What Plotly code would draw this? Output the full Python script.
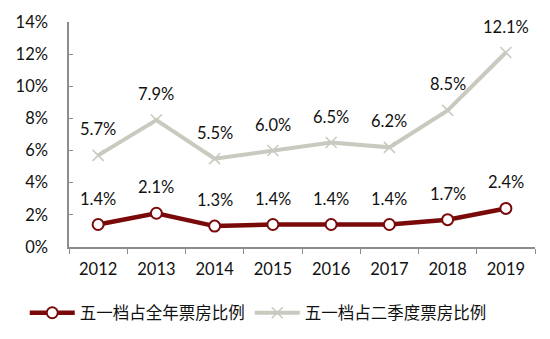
import plotly.graph_objects as go

years = ["2012", "2013", "2014", "2015", "2016", "2017", "2018", "2019"]
share_year = [1.4, 2.1, 1.3, 1.4, 1.4, 1.4, 1.7, 2.4]
share_q2 = [5.7, 7.9, 5.5, 6.0, 6.5, 6.2, 8.5, 12.1]
name_year = "五一档占全年票房比例"
name_q2 = "五一档占二季度票房比例"
y_ticks = [0, 2, 4, 6, 8, 10, 12, 14]

red = "#7A0A0A"
gray = "#C9C9BF"
num_font = dict(family="Lato, 'Open Sans', sans-serif", size=16.5, color="#111111")

fig = go.Figure()
fig.add_trace(go.Scatter(
    x=years, y=share_year, name=name_year, mode="lines+markers",
    line=dict(color=red, width=4.5),
    marker=dict(symbol="circle", size=11, color="white", line=dict(color=red, width=2)),
))
fig.add_trace(go.Scatter(
    x=years, y=share_q2, name=name_q2, mode="lines+markers",
    line=dict(color=gray, width=4),
    marker=dict(symbol="x-thin", size=11, color=gray, line=dict(color=gray, width=1.5)),
))

# value labels above each point
for vals in (share_year, share_q2):
    for i, v in enumerate(vals):
        fig.add_annotation(x=i, y=v, xref="x", yref="y", text=f"{v:.1f}%",
                           showarrow=False, yshift=26, font=num_font)

fig.update_layout(
    width=550, height=339,
    margin=dict(l=69, r=15, t=19, b=92),
    paper_bgcolor="white", plot_bgcolor="white",
    showlegend=True,
    legend=dict(orientation="h", xref="container", yref="container",
                x=0.045, xanchor="left", y=26 / 339, yanchor="middle",
                font=dict(family="'Noto Sans CJK SC', sans-serif", size=16.5, color="#111111"),
                itemwidth=45, tracegroupgap=0),
    xaxis=dict(type="category", tickson="boundaries", ticks="outside", ticklen=5,
               tickcolor="#8c8c8c", showline=True, linecolor="#8c8c8c", linewidth=1.5,
               showgrid=False, tickfont=num_font, range=[-0.5, 7.5], ticklabelstandoff=6),
    yaxis=dict(range=[0, 14], tickvals=y_ticks, ticktext=[f"{t}%" for t in y_ticks],
               ticks="inside", ticklen=4, tickcolor="#8c8c8c", showline=True,
               linecolor="#8c8c8c", linewidth=1.5, showgrid=False, zeroline=False,
               tickfont=num_font, ticklabelstandoff=16),
)

fig.write_html("out.html")
